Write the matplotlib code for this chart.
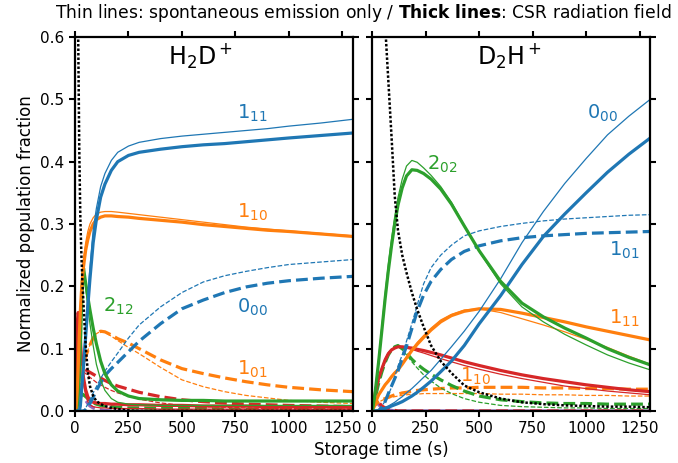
import matplotlib.pyplot as plt

# storage time grids (s)
t_h2d = [0, 5, 10, 15, 20, 25, 30, 35, 40, 50, 60, 70, 85, 100, 120, 140, 170, 200,
         250, 300, 400, 500, 600, 700, 800, 900, 1000, 1150, 1300]
t_d2h = [0, 10, 20, 30, 45, 60, 75, 90, 105, 120, 140, 160, 185, 210, 240, 275, 320,
         370, 430, 500, 600, 700, 800, 900, 1000, 1100, 1200, 1300]

# ---- H2D+ populations (csr = with radiation field, sp = spontaneous only)
h2d_111_csr = [0, 0, 0, 0, 0, 0.008, 0.03, 0.05, 0.072, 0.12, 0.168, 0.212, 0.27, 0.307, 0.343,
               0.364, 0.386, 0.4, 0.41, 0.415, 0.42, 0.424, 0.427, 0.429, 0.432, 0.435, 0.438, 0.442, 0.446]
h2d_111_sp = [0, 0, 0, 0, 0.002, 0.015, 0.04, 0.062, 0.085, 0.135, 0.185, 0.23, 0.29, 0.325, 0.36,
              0.381, 0.402, 0.415, 0.425, 0.431, 0.437, 0.441, 0.444, 0.447, 0.45, 0.453, 0.457, 0.462, 0.468]
h2d_110_csr = [0, 0.005, 0.03, 0.07, 0.12, 0.16, 0.19, 0.215, 0.232, 0.258, 0.275, 0.288, 0.3, 0.307, 0.311,
               0.313, 0.313, 0.312, 0.311, 0.309, 0.306, 0.303, 0.299, 0.296, 0.293, 0.29, 0.288, 0.284, 0.28]
h2d_110_sp = [0, 0.006, 0.035, 0.08, 0.13, 0.17, 0.2, 0.225, 0.245, 0.27, 0.288, 0.3, 0.31, 0.316, 0.319,
              0.32, 0.32, 0.319, 0.317, 0.315, 0.311, 0.307, 0.303, 0.299, 0.295, 0.292, 0.289, 0.285, 0.281]
h2d_000_csr = [0, 0, 0, 0, 0, 0, 0, 0, 0, 0.002, 0.006, 0.012, 0.022, 0.033, 0.045,
               0.057, 0.068, 0.078, 0.095, 0.112, 0.14, 0.164, 0.178, 0.19, 0.199, 0.205, 0.209, 0.213, 0.216]
h2d_000_sp = [0, 0, 0, 0, 0, 0, 0, 0, 0, 0.005, 0.011, 0.018, 0.029, 0.039, 0.052,
              0.064, 0.079, 0.093, 0.117, 0.138, 0.167, 0.19, 0.207, 0.217, 0.224, 0.23, 0.235, 0.239, 0.243]
h2d_101_csr = [0, 0.004, 0.015, 0.03, 0.045, 0.055, 0.063, 0.07, 0.075, 0.087, 0.097, 0.106, 0.117, 0.124, 0.128,
               0.127, 0.122, 0.116, 0.109, 0.1, 0.082, 0.068, 0.06, 0.053, 0.047, 0.042, 0.038, 0.034, 0.031]
h2d_101_sp = [0, 0.004, 0.015, 0.03, 0.045, 0.055, 0.063, 0.07, 0.075, 0.087, 0.097, 0.106, 0.117, 0.124, 0.128,
              0.126, 0.12, 0.113, 0.102, 0.092, 0.07, 0.05, 0.039, 0.031, 0.025, 0.021, 0.017, 0.014, 0.012]
h2d_212_csr = [0, 0.002, 0.005, 0.02, 0.05, 0.1, 0.16, 0.21, 0.229, 0.205, 0.183, 0.162, 0.133, 0.108, 0.08,
               0.06, 0.042, 0.032, 0.024, 0.02, 0.018, 0.017, 0.017, 0.016, 0.016, 0.016, 0.016, 0.016, 0.016]
h2d_212_sp = [0, 0.002, 0.006, 0.022, 0.055, 0.105, 0.165, 0.213, 0.228, 0.198, 0.168, 0.14, 0.105, 0.075, 0.05,
              0.033, 0.02, 0.014, 0.011, 0.01, 0.009, 0.009, 0.009, 0.009, 0.009, 0.009, 0.009, 0.009, 0.009]
h2d_red_csr = [0, 0.07, 0.14, 0.158, 0.145, 0.115, 0.088, 0.068, 0.053, 0.034, 0.023, 0.017, 0.014, 0.013, 0.012,
               0.012, 0.011, 0.011, 0.01, 0.01, 0.009, 0.009, 0.008, 0.008, 0.008, 0.007, 0.007, 0.007, 0.006]
h2d_red_sp = [0, 0.065, 0.13, 0.15, 0.135, 0.105, 0.078, 0.058, 0.043, 0.025, 0.015, 0.01, 0.007, 0.006, 0.005,
              0.005, 0.004, 0.004, 0.004, 0.004, 0.003, 0.003, 0.003, 0.003, 0.003, 0.003, 0.003, 0.003, 0.003]
h2d_reddash_csr = [0, 0.02, 0.045, 0.062, 0.07, 0.071, 0.07, 0.069, 0.068, 0.066, 0.064, 0.062, 0.059, 0.056, 0.053,
                   0.049, 0.044, 0.04, 0.035, 0.03, 0.023, 0.018, 0.015, 0.013, 0.011, 0.01, 0.009, 0.008, 0.007]
h2d_reddash_sp = [0, 0.018, 0.042, 0.058, 0.066, 0.067, 0.066, 0.065, 0.063, 0.06, 0.057, 0.054, 0.05, 0.046, 0.042,
                  0.038, 0.033, 0.029, 0.024, 0.019, 0.013, 0.009, 0.007, 0.006, 0.005, 0.004, 0.004, 0.003, 0.003]
h2d_greendash = [0, 0.004, 0.01, 0.016, 0.021, 0.025, 0.027, 0.027, 0.026, 0.023, 0.02, 0.017, 0.013, 0.011, 0.009,
                 0.008, 0.007, 0.006, 0.005, 0.005, 0.004, 0.004, 0.004, 0.003, 0.003, 0.003, 0.003, 0.003, 0.003]
h2d_purple = [0, 0.012, 0.025, 0.031, 0.033, 0.031, 0.028, 0.025, 0.022, 0.017, 0.012, 0.008, 0.005, 0.003, 0.002,
              0.001, 0, 0, 0, 0, 0, 0, 0, 0, 0, 0, 0, 0, 0]
h2d_dotted = [1.0, 1.0, 0.85, 0.6, 0.42, 0.31, 0.25, 0.205, 0.17, 0.105, 0.062, 0.04, 0.024, 0.016, 0.011,
              0.008, 0.005, 0.003, 0.001, 0, 0, 0, 0, 0, 0, 0, 0, 0, 0]

# ---- D2H+ populations
d2h_000_sp = [0, 0, 0.001, 0.002, 0.004, 0.006, 0.008, 0.011, 0.014, 0.018, 0.023, 0.029, 0.036, 0.044,
              0.054, 0.065, 0.083, 0.103, 0.128, 0.16, 0.212, 0.27, 0.32, 0.365, 0.405, 0.443, 0.473, 0.5]
d2h_000_csr = [0, 0, 0, 0.001, 0.003, 0.004, 0.006, 0.008, 0.01, 0.012, 0.015, 0.019, 0.024, 0.03,
               0.038, 0.048, 0.063, 0.08, 0.105, 0.14, 0.185, 0.235, 0.28, 0.316, 0.35, 0.383, 0.412, 0.438]
d2h_202_csr = [0, 0.02, 0.05, 0.08, 0.13, 0.18, 0.225, 0.265, 0.3, 0.33, 0.358, 0.377, 0.387, 0.386,
               0.381, 0.372, 0.356, 0.332, 0.297, 0.257, 0.208, 0.173, 0.151, 0.133, 0.117, 0.1, 0.086, 0.074]
d2h_202_sp = [0, 0.022, 0.054, 0.085, 0.137, 0.188, 0.235, 0.276, 0.312, 0.342, 0.372, 0.393, 0.402, 0.399,
              0.39, 0.378, 0.36, 0.335, 0.298, 0.256, 0.204, 0.167, 0.143, 0.123, 0.106, 0.09, 0.077, 0.066]
d2h_101_sp = [0, 0, 0.001, 0.003, 0.008, 0.016, 0.026, 0.038, 0.055, 0.072, 0.09, 0.112, 0.14, 0.17,
              0.204, 0.23, 0.25, 0.266, 0.281, 0.289, 0.296, 0.301, 0.305, 0.308, 0.31, 0.312, 0.314, 0.315]
d2h_101_csr = [0, 0, 0, 0, 0.005, 0.015, 0.028, 0.04, 0.052, 0.064, 0.085, 0.104, 0.132, 0.16,
               0.186, 0.208, 0.227, 0.243, 0.256, 0.265, 0.273, 0.278, 0.281, 0.283, 0.285, 0.286, 0.287, 0.288]
d2h_111_csr = [0, 0.01, 0.018, 0.026, 0.034, 0.042, 0.048, 0.055, 0.061, 0.066, 0.075, 0.085, 0.097, 0.107,
               0.118, 0.13, 0.143, 0.153, 0.16, 0.164, 0.163, 0.157, 0.15, 0.143, 0.135, 0.128, 0.121, 0.114]
d2h_111_sp = [0, 0.01, 0.018, 0.026, 0.034, 0.042, 0.049, 0.056, 0.062, 0.068, 0.077, 0.087, 0.099, 0.11,
              0.121, 0.133, 0.146, 0.155, 0.162, 0.164, 0.158, 0.148, 0.138, 0.127, 0.115, 0.102, 0.088, 0.075]
d2h_red_csr = [0, 0.022, 0.04, 0.053, 0.068, 0.082, 0.092, 0.098, 0.101, 0.103, 0.103, 0.102, 0.101, 0.099,
               0.097, 0.094, 0.09, 0.085, 0.079, 0.073, 0.065, 0.058, 0.052, 0.047, 0.042, 0.038, 0.034, 0.031]
d2h_red_sp = [0, 0.023, 0.042, 0.055, 0.07, 0.084, 0.093, 0.099, 0.102, 0.103, 0.103, 0.101, 0.099, 0.096,
              0.093, 0.089, 0.084, 0.079, 0.073, 0.067, 0.059, 0.052, 0.046, 0.04, 0.036, 0.032, 0.029, 0.026]
d2h_greendash_csr = [0, 0.015, 0.03, 0.045, 0.063, 0.078, 0.09, 0.098, 0.103, 0.105, 0.1, 0.093, 0.083, 0.075,
                     0.067, 0.059, 0.05, 0.041, 0.032, 0.024, 0.018, 0.015, 0.013, 0.012, 0.012, 0.011, 0.011, 0.011]
d2h_greendash_sp = [0, 0.015, 0.03, 0.045, 0.063, 0.078, 0.09, 0.098, 0.103, 0.104, 0.098, 0.09, 0.079, 0.069,
                    0.058, 0.048, 0.037, 0.028, 0.02, 0.014, 0.009, 0.007, 0.006, 0.005, 0.005, 0.004, 0.004, 0.004]
d2h_110_csr = [0, 0.008, 0.012, 0.015, 0.018, 0.02, 0.022, 0.024, 0.026, 0.027, 0.029, 0.03, 0.032, 0.033,
               0.034, 0.035, 0.036, 0.037, 0.037, 0.038, 0.038, 0.038, 0.037, 0.037, 0.036, 0.036, 0.035, 0.035]
d2h_110_sp = [0, 0.008, 0.012, 0.014, 0.017, 0.019, 0.021, 0.022, 0.023, 0.024, 0.025, 0.026, 0.027, 0.027,
              0.028, 0.028, 0.028, 0.028, 0.028, 0.028, 0.027, 0.027, 0.026, 0.026, 0.025, 0.025, 0.024, 0.024]
d2h_purple = [0, 0.02, 0.016, 0.01, 0.005, 0.003, 0.002, 0.001, 0, 0, 0, 0, 0, 0,
              0, 0, 0, 0, 0, 0, 0, 0, 0, 0, 0, 0, 0, 0]
d2h_reddash = [0, 0.012, 0.018, 0.014, 0.008, 0.005, 0.003, 0.002, 0.001, 0, 0, 0, 0, 0,
               0, 0, 0, 0, 0, 0, 0, 0, 0, 0, 0, 0, 0, 0]
d2h_dotted = [1.5, 1.3, 1.15, 0.95, 0.75, 0.62, 0.53, 0.44, 0.345, 0.29, 0.25, 0.222, 0.19, 0.163,
              0.135, 0.105, 0.08, 0.061, 0.041, 0.03, 0.02, 0.014, 0.011, 0.009, 0.008, 0.007, 0.007, 0.006]

BLUE, ORANGE, GREEN, RED, PURPLE = '#1f77b4', '#ff7f0e', '#2ca02c', '#d62728', '#9467bd'
THICK, THIN = 2.3, 0.9
DOT = (0, (1, 0.8))

h2d_lines = [
    (h2d_purple, PURPLE, THICK, '--'),
    (h2d_greendash, GREEN, THICK, '--'),
    (h2d_reddash_sp, RED, THIN, '--'),
    (h2d_reddash_csr, RED, THICK, '--'),
    (h2d_red_csr, RED, THICK, '-'),
    (h2d_red_sp, RED, THIN, '-'),
    (h2d_101_csr, ORANGE, THICK, '--'),
    (h2d_101_sp, ORANGE, THIN, '--'),
    (h2d_000_csr, BLUE, THICK, '--'),
    (h2d_000_sp, BLUE, THIN, '--'),
    (h2d_212_csr, GREEN, THICK, '-'),
    (h2d_212_sp, GREEN, THIN, '-'),
    (h2d_110_csr, ORANGE, THICK, '-'),
    (h2d_110_sp, ORANGE, THIN, '-'),
    (h2d_111_csr, BLUE, THICK, '-'),
    (h2d_111_sp, BLUE, THIN, '-'),
    (h2d_dotted, 'black', 1.8, DOT),
]
d2h_lines = [
    (d2h_purple, PURPLE, THICK, '-'),
    (d2h_reddash, RED, THICK, '--'),
    (d2h_110_csr, ORANGE, THICK, '--'),
    (d2h_110_sp, ORANGE, THIN, '--'),
    (d2h_greendash_csr, GREEN, THICK, '--'),
    (d2h_greendash_sp, GREEN, THIN, '--'),
    (d2h_red_csr, RED, THICK, '-'),
    (d2h_red_sp, RED, THIN, '-'),
    (d2h_111_csr, ORANGE, THICK, '-'),
    (d2h_111_sp, ORANGE, THIN, '-'),
    (d2h_101_csr, BLUE, THICK, '--'),
    (d2h_101_sp, BLUE, THIN, '--'),
    (d2h_000_csr, BLUE, THICK, '-'),
    (d2h_000_sp, BLUE, THIN, '-'),
    (d2h_202_csr, GREEN, THICK, '-'),
    (d2h_202_sp, GREEN, THIN, '-'),
    (d2h_dotted, 'black', 1.8, DOT),
]

# level labels: (text, colour, time, fraction)
h2d_labels = [(r'$1_{11}$', BLUE, 758, 0.478), (r'$1_{10}$', ORANGE, 758, 0.318),
              (r'$0_{00}$', BLUE, 758, 0.166), (r'$2_{12}$', GREEN, 133, 0.168),
              (r'$1_{01}$', ORANGE, 758, 0.067)]
d2h_labels = [(r'$0_{00}$', BLUE, 1005, 0.477), (r'$2_{02}$', GREEN, 255, 0.396),
              (r'$1_{01}$', BLUE, 1106, 0.257), (r'$1_{11}$', ORANGE, 1106, 0.148),
              (r'$1_{10}$', ORANGE, 411, 0.056)]

fig = plt.figure(figsize=(6.78, 4.63), dpi=100)
ax1 = fig.add_axes([0.1106, 0.1123, 0.41, 0.8078])
ax2 = fig.add_axes([0.5491, 0.1123, 0.41, 0.8078])

for ax, t, lines, labels, name, nx in [(ax1, t_h2d, h2d_lines, h2d_labels, r'H$_2$D$^+$', 0.45),
                                      (ax2, t_d2h, d2h_lines, d2h_labels, r'D$_2$H$^+$', 0.495)]:
    for y, c, lw, ls in lines:
        ax.plot(t, y, color=c, lw=lw, ls=ls)
    for txt, c, x, y in labels:
        ax.text(x, y, txt, color=c, fontsize=14, ha='left', va='center')
    ax.text(nx, 0.947, name, transform=ax.transAxes, ha='center', va='center', fontsize=17)
    ax.set_xlim(0, 1300)
    ax.set_ylim(0, 0.6)
    ax.set_xticks([0, 250, 500, 750, 1000, 1250])
    ax.set_yticks([0, 0.1, 0.2, 0.3, 0.4, 0.5, 0.6])
    ax.tick_params(direction='out', length=4, width=1.5, top=True, right=True, labelsize=11)
    for s in ax.spines.values():
        s.set_linewidth(1.6)

ax2.tick_params(labelleft=False)
ax1.set_ylabel('Normalized population fraction', fontsize=12)
fig.text(0.562, 0.028, 'Storage time (s)', ha='center', va='center', fontsize=12)
fig.text(0.535, 0.972, r'Thin lines: spontaneous emission only / $\bf{Thick\ lines}$: CSR radiation field',
         ha='center', va='center', fontsize=12.3)

fig.savefig('out.png', dpi=100)
